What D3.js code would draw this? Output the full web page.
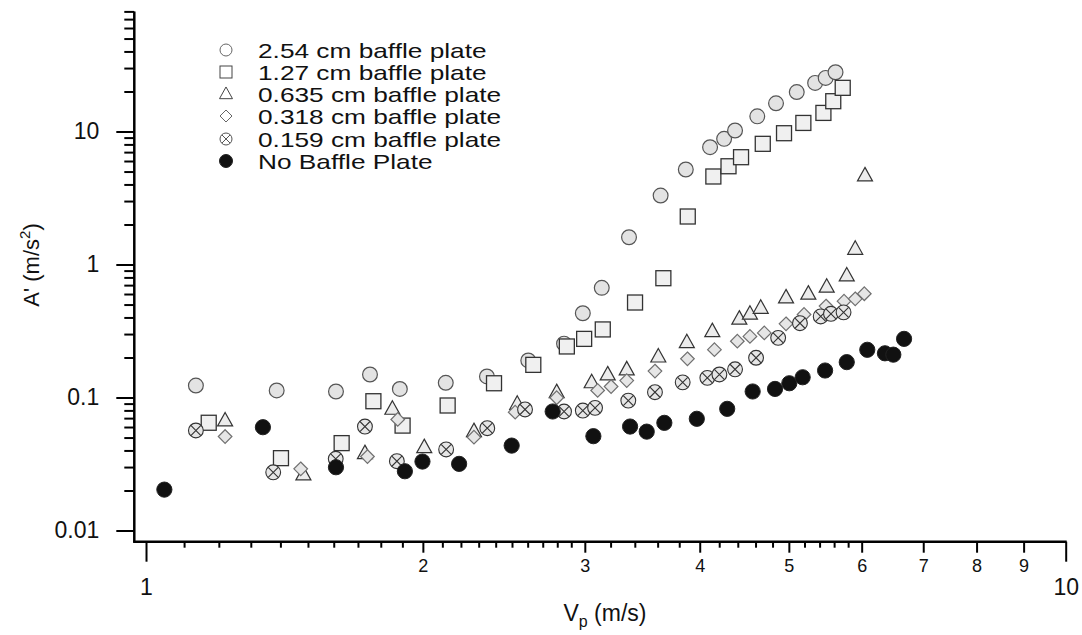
<!DOCTYPE html>
<html><head><meta charset="utf-8">
<script src="https://cdn.jsdelivr.net/npm/d3@7"></script>
<style>
body{margin:0;background:#fff}
text{font-family:"Liberation Sans",Arial,Helvetica,sans-serif;fill:#111}
</style>
</head><body>
<svg id="chart" width="1082" height="635"></svg>
<script>
// ---- data ----
const seriesNames = ["2.54 cm baffle plate","1.27 cm baffle plate","0.635 cm baffle plate","0.318 cm baffle plate","0.159 cm baffle plate","No Baffle Plate"];

const vp254 = [1.133,1.387,1.609,1.752,1.888,2.118,2.348,2.604,2.848,2.985,3.13,3.351,3.627,3.863,4.105,4.252,4.37,4.62,4.842,5.1,5.34,5.483,5.62];
const a254  = [0.123,0.113,0.111,0.149,0.116,0.129,0.144,0.19,0.254,0.43,0.668,1.604,3.30,5.18,7.62,8.81,10.18,13.0,16.3,19.8,23.2,25.3,27.9];

const vp127 = [1.170,1.402,1.632,1.767,1.901,2.128,2.39,2.637,2.868,2.995,3.138,3.402,3.652,3.882,4.139,4.299,4.436,4.684,4.94,5.185,5.452,5.588,5.722];
const a127  = [0.0646,0.035,0.0454,0.0938,0.0615,0.0871,0.128,0.176,0.242,0.276,0.325,0.518,0.789,2.296,4.59,5.48,6.41,8.08,9.71,11.6,13.8,16.9,21.3];

const vp0635 = [1.219,1.483,1.73,1.853,2.007,2.273,2.533,2.796,3.052,3.177,3.332,3.606,3.873,4.128,4.417,4.536,4.66,4.965,5.25,5.497,5.78,5.904,6.05];
const a0635  = [0.0671,0.0264,0.0381,0.0822,0.0423,0.0558,0.0895,0.1096,0.130,0.149,0.1626,0.203,0.26,0.315,0.391,0.426,0.472,0.565,0.603,0.68,0.826,1.31,4.67];

const vp0318 = [1.219,1.473,1.741,1.878,2.273,2.52,2.796,3.098,3.204,3.332,3.576,3.879,4.15,4.395,4.536,4.702,4.965,5.194,5.488,5.741,5.904,6.04];
const a0318  = [0.0509,0.0291,0.036,0.0684,0.0503,0.0776,0.0996,0.113,0.121,0.134,0.158,0.1955,0.229,0.265,0.288,0.306,0.358,0.421,0.487,0.53,0.552,0.603];

const vp0159 = [1.133,1.375,1.608,1.73,1.874,2.12,2.35,2.583,2.848,2.985,3.078,3.345,3.576,3.833,4.077,4.202,4.37,4.606,4.868,5.141,5.415,5.556,5.734];
const a0159  = [0.0565,0.0274,0.0346,0.0605,0.0332,0.0407,0.0588,0.0813,0.0785,0.0798,0.0836,0.0948,0.1096,0.130,0.1406,0.149,0.163,0.199,0.281,0.362,0.407,0.426,0.437];

const vpNone = [1.047,1.34,1.609,1.912,1.998,2.19,2.498,2.768,3.065,3.36,3.503,3.661,3.971,4.285,4.567,4.83,5.006,5.176,5.475,5.78,6.085,6.36,6.495,6.672];
const aNone  = [0.0203,0.0598,0.0299,0.0279,0.033,0.0317,0.0435,0.0785,0.0512,0.0605,0.0554,0.0645,0.0692,0.0822,0.111,0.116,0.128,0.142,0.1596,0.1845,0.2285,0.215,0.21,0.276];

// tick values / labels
const xMajorTicks = [1, 10];
const xMidTicks = [2,3,4,5,6,7,8,9];
const xMinorTicks = [1.1,1.2,1.3,1.4,1.5,1.6,1.7,1.8,1.9,2.1,2.2,2.3,2.4,2.5,2.6,2.7,2.8,2.9,3.2,3.4,3.6,3.8,4.2,4.4,4.6,4.8,5.2,5.4,5.6,5.8];
const yMajorTicks = [0.01, 0.1, 1, 10];
const yMajorLabels = ["0.01","0.1","1","10"];
const yMinorTicks = [0.02,0.03,0.04,0.05,0.06,0.07,0.08,0.09,0.2,0.3,0.4,0.5,0.6,0.7,0.8,0.9,2,3,4,5,6,7,8,9,20,30,40,50,60,70,80];

// ---- build ----
const svg = d3.select("#chart");
const x = d3.scaleLog().domain([0.9711, 10]).range([134.3, 1065.7]);
const y = d3.scaleLog().domain([0.00824, 80]).range([541.7, 11.4]);
const X0 = 134.3, Y0 = 541.7;
const FONT = "'Liberation Sans',Arial,sans-serif";

// Axes
const gx = svg.append("g").attr("transform", `translate(0,${Y0})`);
gx.append("g").call(d3.axisBottom(x).tickValues(xMinorTicks).tickSize(6).tickSizeOuter(0).tickFormat(""))
  .call(g => g.select(".domain").remove())
  .selectAll("line").attr("stroke","#000").attr("stroke-width",2);
gx.append("g").call(d3.axisBottom(x).tickValues(xMidTicks).tickSize(11).tickPadding(7).tickSizeOuter(0).tickFormat(d3.format("d")))
  .call(g => g.select(".domain").remove())
  .call(g => g.selectAll("line").attr("stroke","#000").attr("stroke-width",2))
  .call(g => g.selectAll("text").attr("font-size",18).attr("fill","#222").style("font-family",FONT));
gx.append("g").call(d3.axisBottom(x).tickValues(xMajorTicks).tickSize(20).tickPadding(17).tickSizeOuter(0).tickFormat(d3.format("d")))
  .call(g => g.select(".domain").remove())
  .call(g => g.selectAll("line").attr("stroke","#000").attr("stroke-width",2))
  .call(g => g.selectAll("text").attr("font-size",23).attr("fill","#222").style("font-family",FONT));
gx.append("line").attr("x1",X0-1).attr("x2",x(10)+1).attr("y1",0).attr("y2",0).attr("stroke","#000").attr("stroke-width",2.5);

const gy = svg.append("g").attr("transform", `translate(${X0},0)`);
gy.append("g").call(d3.axisLeft(y).tickValues(yMinorTicks).tickSize(10).tickSizeOuter(0).tickFormat(""))
  .call(g => g.select(".domain").remove())
  .selectAll("line").attr("stroke","#000").attr("stroke-width",2);
gy.append("g").call(d3.axisLeft(y).tickValues(yMajorTicks).tickSize(18).tickPadding(17).tickSizeOuter(0).tickFormat((d,i)=>yMajorLabels[i]))
  .call(g => g.select(".domain").remove())
  .call(g => g.selectAll("line").attr("stroke","#000").attr("stroke-width",2))
  .call(g => g.selectAll("text").attr("font-size",23).attr("fill","#222").style("font-family",FONT));
gy.append("line").attr("x1",0).attr("x2",0).attr("y1",y(80)).attr("y2",Y0+1).attr("stroke","#000").attr("stroke-width",2.5);

// axis titles
const yt = svg.append("text").attr("transform","translate(39,265) rotate(-90)").attr("text-anchor","middle").attr("font-size",22).attr("fill","#222");
yt.append("tspan").text("A' (m/s");
yt.append("tspan").attr("font-size",15).attr("dy",-9).text("2");
yt.append("tspan").attr("dy",9).text(")");

const xt = svg.append("text").attr("x",605).attr("y",621).attr("text-anchor","middle").attr("font-size",23).attr("fill","#222");
xt.append("tspan").text("V");
xt.append("tspan").attr("font-size",16).attr("dy",6).text("p");
xt.append("tspan").attr("dy",-6).text(" (m/s)");

// ---- marker drawers ----
function drawCircle(g, cx, cy, r, fill, stroke, sw){
  g.append("circle").attr("cx",cx).attr("cy",cy).attr("r",r).attr("fill",fill).attr("stroke",stroke).attr("stroke-width",sw);
}
function drawSquare(g, cx, cy, s, fill, stroke, sw){
  g.append("rect").attr("x",cx-s/2).attr("y",cy-s/2).attr("width",s).attr("height",s).attr("fill",fill).attr("stroke",stroke).attr("stroke-width",sw);
}
function drawTriangle(g, cx, cy, w, fill, stroke, sw){
  const h = w*0.9;
  g.append("path").attr("d",`M${cx},${cy-h*0.6}L${cx+w/2},${cy+h*0.4}L${cx-w/2},${cy+h*0.4}Z`).attr("fill",fill).attr("stroke",stroke).attr("stroke-width",sw);
}
function drawDiamond(g, cx, cy, d, fill, stroke, sw){
  g.append("path").attr("d",`M${cx},${cy-d}L${cx+d},${cy}L${cx},${cy+d}L${cx-d},${cy}Z`).attr("fill",fill).attr("stroke",stroke).attr("stroke-width",sw);
}
function drawCross(g, cx, cy, r, fill, stroke, sw){
  drawCircle(g,cx,cy,r,fill,stroke,sw);
  const k = r*0.68;
  g.append("path").attr("d",`M${cx-k},${cy-k}L${cx+k},${cy+k}M${cx+k},${cy-k}L${cx-k},${cy+k}`).attr("stroke",stroke).attr("stroke-width",sw).attr("fill","none");
}
function drawDot(g, cx, cy, r){
  g.append("circle").attr("cx",cx).attr("cy",cy).attr("r",r).attr("fill","#111").attr("stroke","#222").attr("stroke-width",1);
}

const series = [
  {xs: vp254, ys: a254, draw:(g,cx,cy)=>drawCircle(g,cx,cy,7.4,"#e3e3e3","#555",1.2),
   leg:(g,cx,cy)=>drawCircle(g,cx,cy,6,"#fff","#666",1)},
  {xs: vp127, ys: a127, draw:(g,cx,cy)=>drawSquare(g,cx,cy,15,"#f0f0f0","#333",1.3),
   leg:(g,cx,cy)=>drawSquare(g,cx,cy,12,"#fff","#444",1)},
  {xs: vp0635, ys: a0635, draw:(g,cx,cy)=>drawTriangle(g,cx,cy,15,"#ececec","#333",1.2),
   leg:(g,cx,cy)=>drawTriangle(g,cx,cy,13,"#fff","#444",1)},
  {xs: vp0318, ys: a0318, draw:(g,cx,cy)=>drawDiamond(g,cx,cy,6.8,"#e6e6e6","#707070",1.2),
   leg:(g,cx,cy)=>drawDiamond(g,cx,cy,6,"#fff","#666",1)},
  {xs: vp0159, ys: a0159, draw:(g,cx,cy)=>drawCross(g,cx,cy,7.4,"#e6e6e6","#333",1.1),
   leg:(g,cx,cy)=>drawCross(g,cx,cy,6,"#fff","#555",1)},
  {xs: vpNone, ys: aNone, draw:(g,cx,cy)=>drawDot(g,cx,cy,7.6),
   leg:(g,cx,cy)=>drawDot(g,cx,cy,6.5)}
];

const plot = svg.append("g");
series.forEach(s => {
  const g = plot.append("g");
  s.xs.forEach((v,i) => s.draw(g, x(v), y(s.ys[i])));
});

// legend
const leg = svg.append("g");
const legRowY = [50, 72, 94, 116, 139, 161];
series.forEach((s,i) => {
  s.leg(leg, 226, legRowY[i]);
  leg.append("text").attr("transform",`translate(258,${legRowY[i]}) scale(1.25,1)`)
    .attr("dy","0.36em").attr("font-size",21).attr("fill","#222").text(seriesNames[i]);
});
</script>
</body></html>
